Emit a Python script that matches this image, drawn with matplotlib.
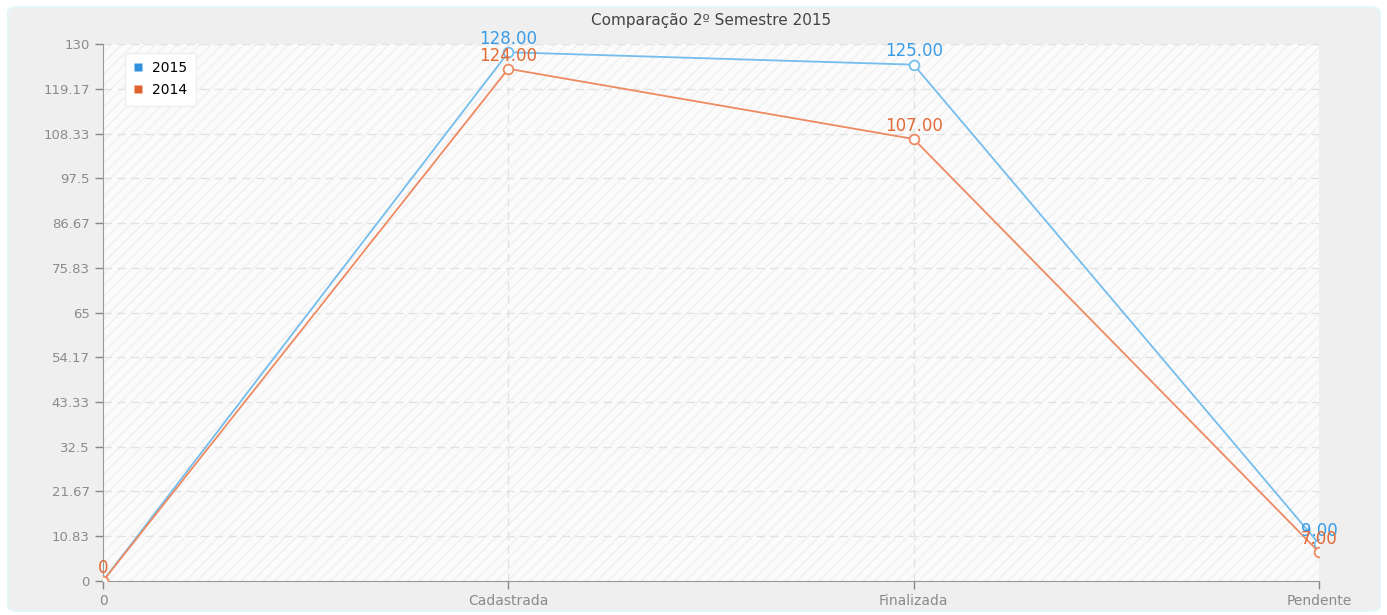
import matplotlib
matplotlib.use("Agg")
import matplotlib.pyplot as plt
from matplotlib.patches import FancyBboxPatch, Rectangle
from matplotlib.lines import Line2D

categories = ["0", "Cadastrada", "Finalizada", "Pendente"]
serie_2015 = [0, 128, 125, 9]
serie_2014 = [0, 124, 107, 7]
labels_2015 = ["", "128.00", "125.00", "9.00"]
labels_2014 = ["0", "124.00", "107.00", "7.00"]
yticks = [0, 10.83, 21.67, 32.5, 43.33, 54.17, 65, 75.83, 86.67, 97.5, 108.33, 119.17, 130]
ytick_labels = ["0", "10.83", "21.67", "32.5", "43.33", "54.17", "65", "75.83", "86.67",
                "97.5", "108.33", "119.17", "130"]

blue_line = "#74bdec"
blue_txt = "#3a9be6"
orange_line = "#ee8a62"
orange_txt = "#e26a36"

fig = plt.figure(figsize=(13.87, 6.15), dpi=100)
fig.patch.set_facecolor("white")
bg = FancyBboxPatch((8 / 1387, 4 / 615), 1372 / 1387, 604 / 615,
                    boxstyle="round,pad=0,rounding_size=0.008",
                    transform=fig.transFigure, facecolor="#efefef",
                    edgecolor="#e4f6f8", linewidth=1.5, zorder=-10)
fig.patches.append(bg)

ax = fig.add_axes([103 / 1387, 1 - 581 / 615, (1319 - 103) / 1387, (581 - 44) / 615])
ax.set_facecolor("#fbfbfb")
ax.add_patch(Rectangle((0, 0), 1, 1, transform=ax.transAxes, facecolor="none",
                       hatch="///", edgecolor="#f0f0f0", linewidth=0, zorder=0))

x = list(range(len(categories)))
ax.set_xlim(0, len(categories) - 1)
ax.set_ylim(0, 130)

for yv in yticks[1:]:
    ax.axhline(yv, color="#e2e2e2", linestyle=(0, (6, 4)), linewidth=1, zorder=1)
for xv in x[1:-1]:
    ax.axvline(xv, color="#e2e2e2", linestyle=(0, (6, 4)), linewidth=1, zorder=1)

ax.plot(x, serie_2015, color=blue_line, linewidth=1.3, marker="o", markersize=7,
        markerfacecolor="white", markeredgecolor=blue_line, markeredgewidth=1.3, zorder=3)
ax.plot(x, serie_2014, color=orange_line, linewidth=1.3, marker="o", markersize=7,
        markerfacecolor="white", markeredgecolor=orange_line, markeredgewidth=1.3, zorder=4)

for xi, yi, t in zip(x, serie_2015, labels_2015):
    if t:
        ax.annotate(t, (xi, yi), xytext=(0, 3), textcoords="offset points",
                    ha="center", va="bottom", color=blue_txt, fontsize=12, zorder=5,
                    annotation_clip=False)
for xi, yi, t in zip(x, serie_2014, labels_2014):
    ax.annotate(t, (xi, yi), xytext=(0, 3), textcoords="offset points",
                ha="center", va="bottom", color=orange_txt, fontsize=12, zorder=5,
                annotation_clip=False)

ax.set_xticks(x)
ax.set_xticklabels(categories)
ax.set_yticks(yticks)
ax.set_yticklabels(ytick_labels)
ax.tick_params(axis="both", colors="#888888", labelcolor="#8a8a8a", labelsize=9.5,
               length=6, width=1)
ax.tick_params(axis="x", labelsize=10)
for side in ["top", "right"]:
    ax.spines[side].set_visible(False)
for side in ["left", "bottom"]:
    ax.spines[side].set_color("#999999")

ax.set_title("Comparação 2º Semestre 2015", fontsize=11, color="#444444", pad=14)

legend_elements = [Line2D([0], [0], marker="s", color="none", markerfacecolor="#2f90e0",
                          markeredgecolor="none", markersize=6, label="2015"),
                   Line2D([0], [0], marker="s", color="none", markerfacecolor="#e0622c",
                          markeredgecolor="none", markersize=6, label="2014")]
leg = ax.legend(handles=legend_elements, loc="upper left", bbox_to_anchor=(0.012, 0.997),
                fontsize=10, frameon=True, fancybox=True, handlelength=0.8,
                handletextpad=0.6, borderpad=0.6, labelspacing=0.6)
leg.get_frame().set_edgecolor("#eeeeee")
leg.get_frame().set_facecolor("white")
leg.get_frame().set_alpha(1)
leg.set_zorder(10)

plt.savefig("out.png", dpi=100)
